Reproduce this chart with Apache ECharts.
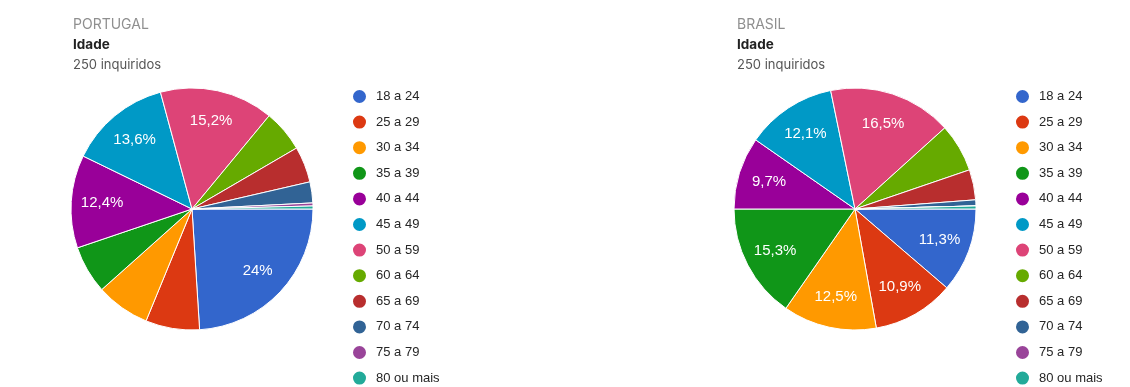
<!DOCTYPE html>
<html>
<head>
<meta charset="utf-8">
<script src="https://cdn.jsdelivr.net/npm/echarts@6/dist/echarts.min.js"></script>
<style>
html,body{margin:0;padding:0;background:#fff;}
#c{width:1130px;height:387px;}
</style>
</head>
<body>
<div id="c"></div>
<script>
const categories = ['18 a 24','25 a 29','30 a 34','35 a 39','40 a 44','45 a 49','50 a 59','60 a 64','65 a 69','70 a 74','75 a 79','80 ou mais'];
const portugalValues = [60,18,18,16,31,34,38,14,12,7,1,1];
const brasilValues = [28,27,31,38,24,30,41,16,10,2,0,1];
const colors = ['#3366cc','#dc3912','#ff9900','#109618','#990099','#0099c6','#dd4477','#66aa00','#b82e2e','#316395','#994499','#22aa99'];
const countryLabels = ['PORTUGAL','BRASIL'];
const questionLabel = 'Idade';
const countLabel = '250 inquiridos';

const font = 'Liberation Sans, Arial, sans-serif';
const titleFont = 'Inter, "Noto Sans", sans-serif';

function mkData(vals){ return categories.map((n,i)=>({name:n,value:vals[i]})); }
function fmt(vals){
  const total = vals.reduce((a,b)=>a+b,0);
  return function(p){
    const pct = Math.round(p.value/total*1000)/10;
    if (pct < 9) return '';
    return String(pct).replace('.',',') + '%';
  };
}

const pies = [
  {vals: portugalValues, cx: 192, cy: 209, r: 121, tx: 68, lx: 346},
  {vals: brasilValues, cx: 855, cy: 209, r: 121, tx: 732, lx: 1009}
];

const titles = [];
const legends = [];
const series = [];
pies.forEach((p,i)=>{
  titles.push({text: countryLabels[i], left: p.tx, top: 13, textStyle:{fontFamily:titleFont, fontSize:14, fontWeight:'normal', color:'#8f8f8f'}});
  titles.push({text: questionLabel, left: p.tx, top: 33, textStyle:{fontFamily:titleFont, fontSize:13.5, fontWeight:'bold', color:'#222'}});
  titles.push({text: countLabel, left: p.tx, top: 54, textStyle:{fontFamily:titleFont, fontSize:13, fontWeight:'normal', color:'#555'}});
  legends.push({
    data: categories, orient:'vertical', left: p.lx, top: 83, height: 330,
    icon:'circle', itemWidth:15, itemHeight:15, itemGap:8.6,
    selectedMode:false,
    textStyle:{fontFamily:font, fontSize:13, color:'#262626', padding:[0,0,0,4]}
  });
  series.push({
    type:'pie', center:[p.cx,p.cy], radius:[0,p.r], startAngle:0, clockwise:true,
    data: mkData(p.vals), color: colors, silent:true, animation:false,
    itemStyle:{borderColor:'#fff', borderWidth:1},
    label:{show:false}, labelLine:{show:false}
  });
  series.push({
    type:'pie', center:[p.cx,p.cy], radius:[p.r*0.44,p.r], startAngle:0, clockwise:true,
    data: mkData(p.vals), silent:true, animation:false, avoidLabelOverlap:false,
    itemStyle:{color:'rgba(0,0,0,0)'},
    label:{show:true, position:'inside', formatter: fmt(p.vals), color:'#fff', fontFamily:font, fontSize:15, textBorderWidth:0},
    labelLine:{show:false}
  });
});

const chart = echarts.init(document.getElementById('c'), null, {renderer:'canvas'});
chart.setOption({
  backgroundColor:'#fff',
  animation:false,
  color: colors,
  title: titles,
  legend: legends,
  series: series
});
</script>
</body>
</html>
